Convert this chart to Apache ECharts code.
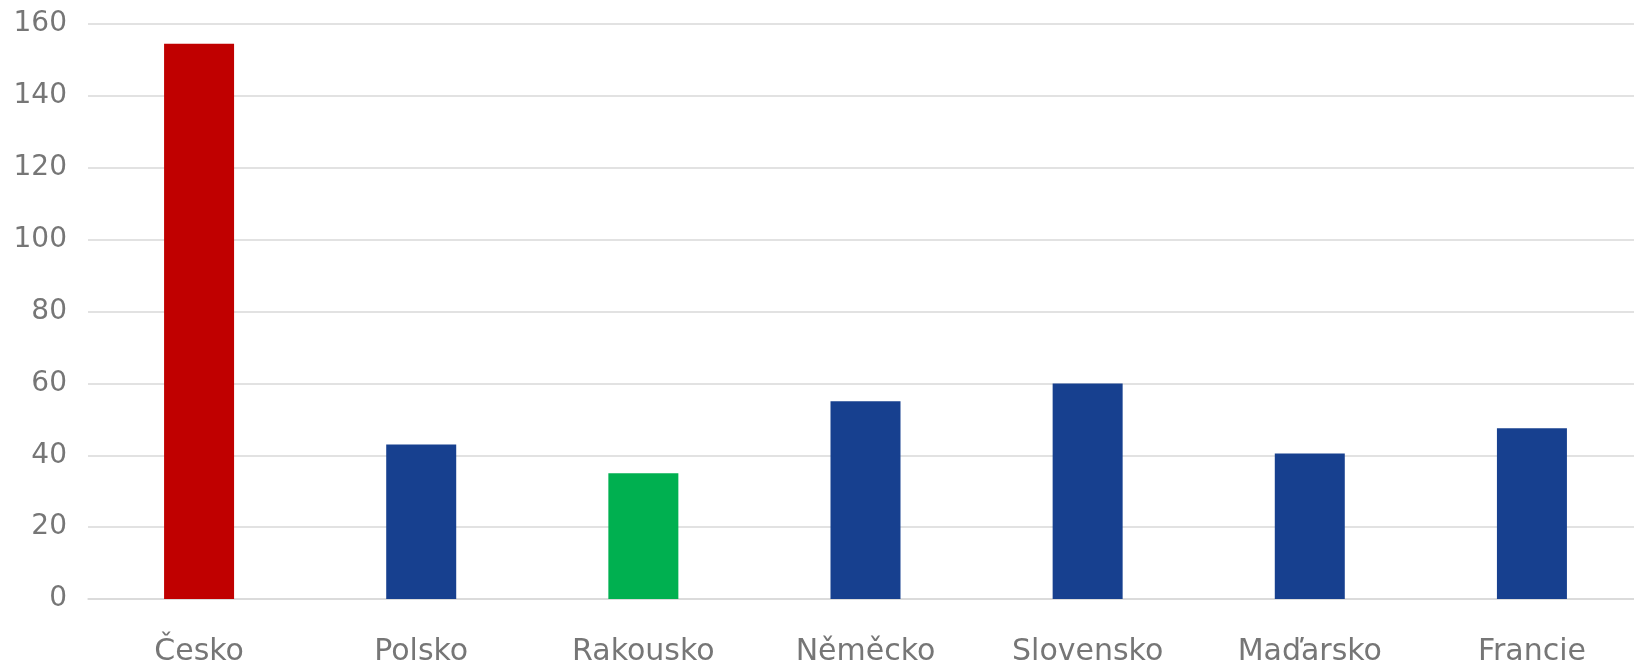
<!DOCTYPE html>
<html>
<head>
<meta charset="utf-8">
<script src="https://cdn.jsdelivr.net/npm/echarts@6/dist/echarts.min.js"></script>
<style>
  html, body { margin: 0; padding: 0; background: #fff; }
  #chart { width: 1634px; height: 668px; }
</style>
</head>
<body>
<div id="chart"></div>
<script>
// země a hodnoty
var countries = ["Česko", "Polsko", "Rakousko", "Něměcko", "Slovensko", "Maďarsko", "Francie"];
var values = [154.5, 43, 35, 55, 60, 40.5, 47.5];
var barColors = ["#C00000", "#17408F", "#00B050", "#17408F", "#17408F", "#17408F", "#17408F"];
var yTicks = [0, 20, 40, 60, 80, 100, 120, 140, 160];

var chart = echarts.init(document.getElementById("chart"));

var option = {
  animation: false,
  grid: {
    left: 88,
    width: 1555,
    top: 24,
    bottom: 69,
    outerBoundsMode: "none",
    containLabel: false,
  },
  xAxis: {
    type: "category",
    data: countries,
    axisLine: { lineStyle: { color: "#d9d9d9", width: 1.5 } },
    axisTick: { show: false },
    axisLabel: {
      color: "#767676",
      fontFamily: "DejaVu Sans",
      fontSize: 30,
      margin: 38,
    },
  },
  yAxis: {
    type: "value",
    min: yTicks[0],
    max: yTicks[yTicks.length - 1],
    interval: 20,
    axisLine: { show: false },
    axisTick: { show: false },
    splitLine: { lineStyle: { color: "#d9d9d9", width: 1.5 } },
    axisLabel: {
      color: "#767676",
      fontFamily: "DejaVu Sans",
      fontSize: 28,
      margin: 21,
    },
  },
  series: [
    {
      type: "bar",
      barWidth: 70,
      data: values.map(function (v, i) {
        return { value: v, itemStyle: { color: barColors[i] } };
      }),
    },
  ],
};

chart.setOption(option);
</script>
</body>
</html>
